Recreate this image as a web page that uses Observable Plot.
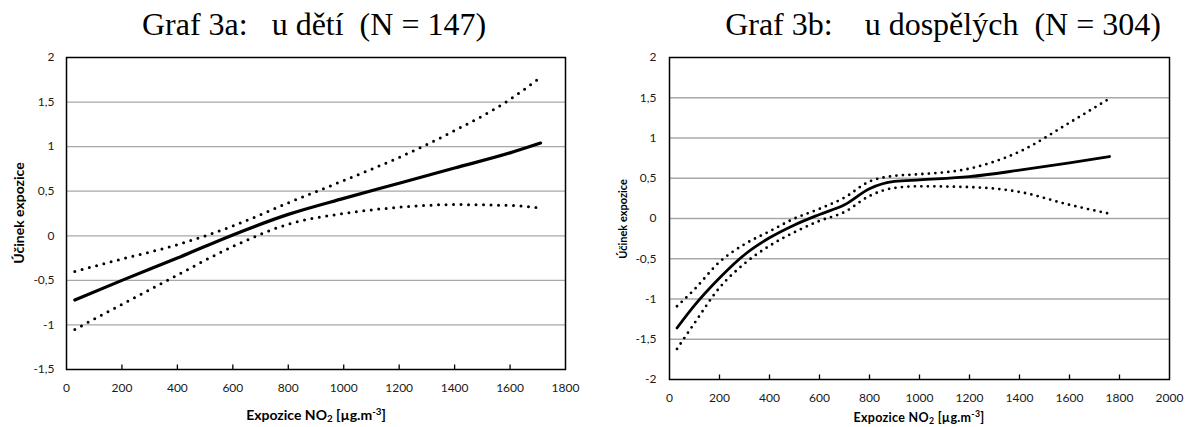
<!DOCTYPE html>
<html>
<head>
<meta charset="utf-8">
<script src="https://cdn.jsdelivr.net/npm/d3@7"></script>
<script src="https://cdn.jsdelivr.net/npm/@observablehq/plot@0.6"></script>
<style>
html, body { margin: 0; padding: 0; background: #fff; }
#root { position: relative; width: 1185px; height: 427px; overflow: hidden; font-family: Lato, sans-serif; color: #000; }
.title { position: absolute; top: 8px; width: 600px; text-align: center; font-family: "Liberation Serif", "Times New Roman", serif; font-size: 32px; line-height: 32px; white-space: pre; }
.panel { position: absolute; top: 45px; }
.ylab { position: absolute; font-weight: bold; white-space: nowrap; transform: translate(-50%, -50%) rotate(-90deg); line-height: 1; }
.xlab { position: absolute; font-weight: bold; white-space: nowrap; transform: translate(-50%, -50%); line-height: 1; }
.xlab sub { font-size: 70%; line-height: 0; vertical-align: -0.2em; }
.xlab sup { font-size: 70%; line-height: 0; vertical-align: 0.55em; }
</style>
</head>
<body>
<div id="root">
  <div class="title" style="left:14px">Graf 3a:   u dětí  (N = 147)</div>
  <div class="title" style="left:643px">Graf 3b:    u dospělých  (N = 304)</div>
  <div id="pa" class="panel" style="left:0px"></div>
  <div id="pb" class="panel" style="left:590px"></div>
  <div class="ylab" style="left:19px; top:213px; font-size:14px">Účinek expozice</div>
  <div class="ylab" style="left:622px; top:219px; font-size:11px">Účinek expozice</div>
  <div class="xlab" style="left:316px; top:415px; font-size:14px">Expozice NO<sub>2</sub> [µg.m<sup>-3</sup>]</div>
  <div class="xlab" style="left:919px; top:418px; font-size:12.5px; letter-spacing:0.3px">Expozice NO<sub>2</sub> [µg.m<sup>-3</sup>]</div>
</div>
<script>
// Panel A: children (N = 147)
const xA     = [30, 200, 400, 600, 800, 1000, 1200, 1400, 1600, 1710];
const meanA  = [-0.72, -0.50, -0.25, 0.01, 0.24, 0.42, 0.59, 0.76, 0.93, 1.04];
const upperA = [-0.40, -0.26, -0.10, 0.11, 0.37, 0.62, 0.88, 1.18, 1.53, 1.78];
const lowerA = [-1.05, -0.77, -0.44, -0.12, 0.13, 0.25, 0.32, 0.35, 0.34, 0.31];
const xTicksA = [0, 200, 400, 600, 800, 1000, 1200, 1400, 1600, 1800];
const yTicksA = [-1.5, -1, -0.5, 0, 0.5, 1, 1.5, 2];

// Panel B: adults (N = 304)
const xB     = [30, 100, 200, 300, 400, 500, 600, 700, 800, 900, 1000, 1200, 1400, 1600, 1760];
const meanB  = [-1.36, -1.08, -0.74, -0.45, -0.24, -0.08, 0.05, 0.17, 0.37, 0.46, 0.48, 0.52, 0.60, 0.69, 0.77];
const upperB = [-1.09, -0.88, -0.54, -0.32, -0.16, 0.00, 0.12, 0.26, 0.46, 0.53, 0.55, 0.62, 0.83, 1.19, 1.49];
const lowerB = [-1.62, -1.30, -0.86, -0.56, -0.34, -0.17, -0.03, 0.08, 0.28, 0.38, 0.40, 0.39, 0.33, 0.17, 0.06];
const xTicksB = [0, 200, 400, 600, 800, 1000, 1200, 1400, 1600, 1800, 2000];
const yTicksB = [-2, -1.5, -1, -0.5, 0, 0.5, 1, 1.5, 2];

const fmtY = d => String(d).replace(".", ",");

function panel({x, mean, upper, lower, xTicks, yTicks, width, height, margin, lineW, dotW, dotGap, yPad}) {
  const rows = x.map((xi, i) => ({x: xi, mean: mean[i], upper: upper[i], lower: lower[i]}));
  const xDom = [xTicks[0], xTicks[xTicks.length - 1]];
  const yDom = [yTicks[0], yTicks[yTicks.length - 1]];
  const innerH = height - margin[0] - margin[2];
  const tickLen = (yDom[1] - yDom[0]) * 4.5 / innerH; // 4.5px inward tick marks
  return Plot.plot({
    width, height,
    marginTop: margin[0], marginRight: margin[1], marginBottom: margin[2], marginLeft: margin[3],
    x: {domain: xDom},
    y: {domain: yDom},
    style: {fontFamily: "Lato, sans-serif", fontSize: "12px", color: "#1a1a1a", background: "white", overflow: "visible"},
    marks: [
      Plot.ruleY(yTicks.slice(1, -1), {stroke: "#a8a8a8", strokeWidth: 1.3}),
      Plot.ruleX(xTicks.slice(1, -1), {x: d => d, y1: yDom[0], y2: yDom[0] + tickLen, stroke: "#000", strokeWidth: 1.3}),
      Plot.line(rows, {x: "x", y: "upper", curve: "monotone-x", stroke: "#000", strokeWidth: dotW, strokeDasharray: `0 ${dotGap}`, strokeLinecap: "round"}),
      Plot.line(rows, {x: "x", y: "lower", curve: "monotone-x", stroke: "#000", strokeWidth: dotW, strokeDasharray: `0 ${dotGap}`, strokeLinecap: "round"}),
      Plot.line(rows, {x: "x", y: "mean", curve: "monotone-x", stroke: "#000", strokeWidth: lineW, strokeLinecap: "round"}),
      Plot.frame({stroke: "#000", strokeWidth: 1.5}),
      Plot.axisY({ticks: yTicks, tickSize: 0, tickPadding: yPad, tickFormat: fmtY, fontSize: 12, label: null}),
      Plot.axisX({ticks: xTicks, tickSize: 0, tickPadding: 14, tickFormat: d => String(d), fontSize: 12, label: null})
    ]
  });
}

document.getElementById("pa").appendChild(panel({
  x: xA, mean: meanA, upper: upperA, lower: lowerA, xTicks: xTicksA, yTicks: yTicksA,
  width: 590, height: 382, margin: [12, 25, 58, 66], lineW: 3.2, dotW: 3, dotGap: 7.5, yPad: 12
}));
document.getElementById("pb").appendChild(panel({
  x: xB, mean: meanB, upper: upperB, lower: lowerB, xTicks: xTicksB, yTicks: yTicksB,
  width: 595, height: 382, margin: [12, 16, 48, 79], lineW: 2.8, dotW: 2.8, dotGap: 6.5, yPad: 13
}));
</script>
</body>
</html>
